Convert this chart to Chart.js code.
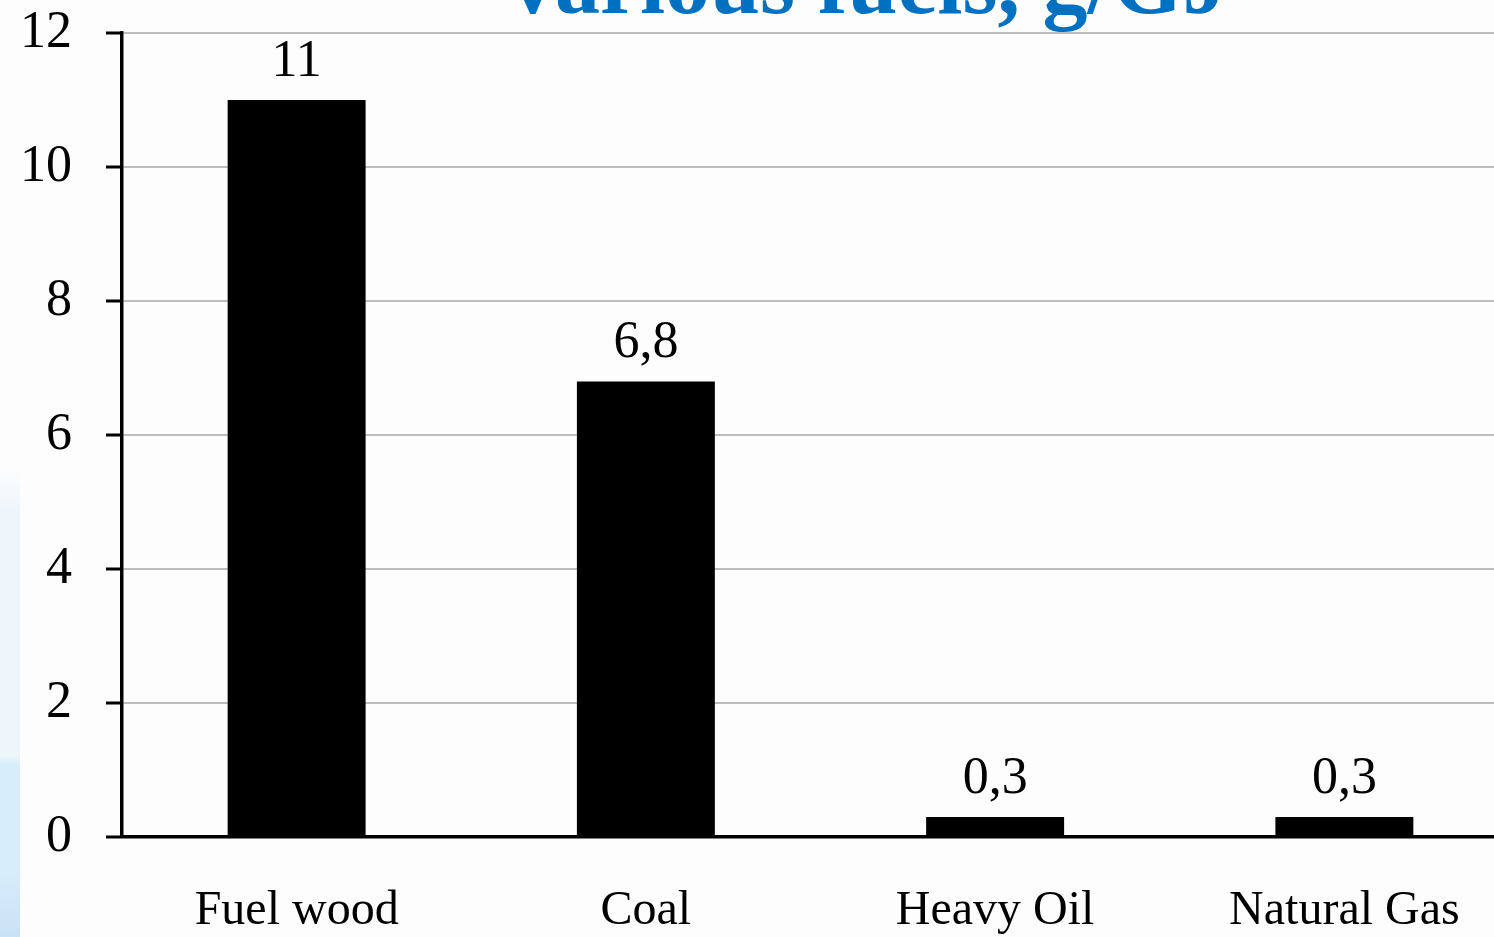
<!DOCTYPE html>
<html>
<head>
<meta charset="utf-8">
<script src="https://cdn.jsdelivr.net/npm/chart.js@4.4.1/dist/chart.umd.min.js"></script>
<style>
  html, body { margin: 0; padding: 0; background: #fdfdfd; overflow: hidden; width: 1494px; height: 937px; }
  #strip { position: absolute; left: 0; top: 0; width: 20px; height: 937px;
    background: linear-gradient(to bottom, #fdfdfd 0px, #fdfdfd 470px, #eef6fc 510px, #eef6fc 755px, #d8edfb 765px, #d8edfb 870px, #c9e2f5 937px); }
  #wrap { position: absolute; left: 0; top: 0; width: 1519px; height: 937px; }
</style>
</head>
<body>
<div id="strip"></div>
<div id="wrap"><canvas id="c"></canvas></div>
<script>
const categories = ['Fuel wood', 'Coal', 'Heavy Oil', 'Natural Gas'];
const values = [11, 6.8, 0.3, 0.3];
const valueLabels = ['11', '6,8', '0,3', '0,3'];
const yTicks = [0, 2, 4, 6, 8, 10, 12];
const titleText = 'various fuels, g/GJ';

const valuePlugin = {
  id: 'valueLabels',
  afterDatasetsDraw(chart) {
    const ctx = chart.ctx;
    const meta = chart.getDatasetMeta(0);
    ctx.save();
    ctx.font = '52px "Liberation Serif"';
    ctx.fillStyle = '#000';
    ctx.textAlign = 'center';
    ctx.textBaseline = 'alphabetic';
    meta.data.forEach((bar, i) => {
      ctx.fillText(valueLabels[i], bar.x, bar.y - 24);
    });
    ctx.restore();
  }
};

const titlePlugin = {
  id: 'cutTitle',
  afterDraw(chart) {
    const ctx = chart.ctx;
    ctx.save();
    ctx.font = 'bold 90px "Liberation Serif"';
    ctx.fillStyle = '#0070C0';
    ctx.textAlign = 'left';
    ctx.textBaseline = 'alphabetic';
    ctx.fillText(titleText, 510, 13);
    ctx.restore();
  }
};

new Chart(document.getElementById('c'), {
  type: 'bar',
  data: {
    labels: categories,
    datasets: [{
      data: values,
      backgroundColor: '#000',
      borderWidth: 0,
      barPercentage: 0.5,
      categoryPercentage: 0.79
    }]
  },
  options: {
    responsive: true,
    maintainAspectRatio: false,
    animation: false,
    layout: { padding: { top: 33, left: 0, right: 0, bottom: 0 } },
    plugins: { legend: { display: false }, tooltip: { enabled: false }, title: { display: false } },
    scales: {
      x: {
        grid: { display: false, drawTicks: false },
        border: { display: true, color: '#000', width: 3.5 },
        ticks: { color: '#000', font: { family: '"Liberation Serif"', size: 48 }, padding: 46, maxRotation: 0 },
        afterFit(scale) { scale.height = 100; scale.paddingLeft = 0; scale.paddingRight = 0; }
      },
      y: {
        min: 0, max: 12,
        afterBuildTicks(scale) { scale.ticks = yTicks.map(v => ({ value: v })); },
        grid: { color: '#bdbdbd', lineWidth: 2, tickColor: '#000', tickLength: 16, tickWidth: 3, drawTicks: true },
        border: { display: true, color: '#000', width: 3.5 },
        ticks: { color: '#000', font: { family: '"Liberation Serif"', size: 52 }, padding: 34 },
        afterFit(scale) { scale.width = 122; scale.paddingTop = 0; scale.paddingBottom = 0; }
      }
    }
  },
  plugins: [valuePlugin, titlePlugin]
});
</script>
</body>
</html>
